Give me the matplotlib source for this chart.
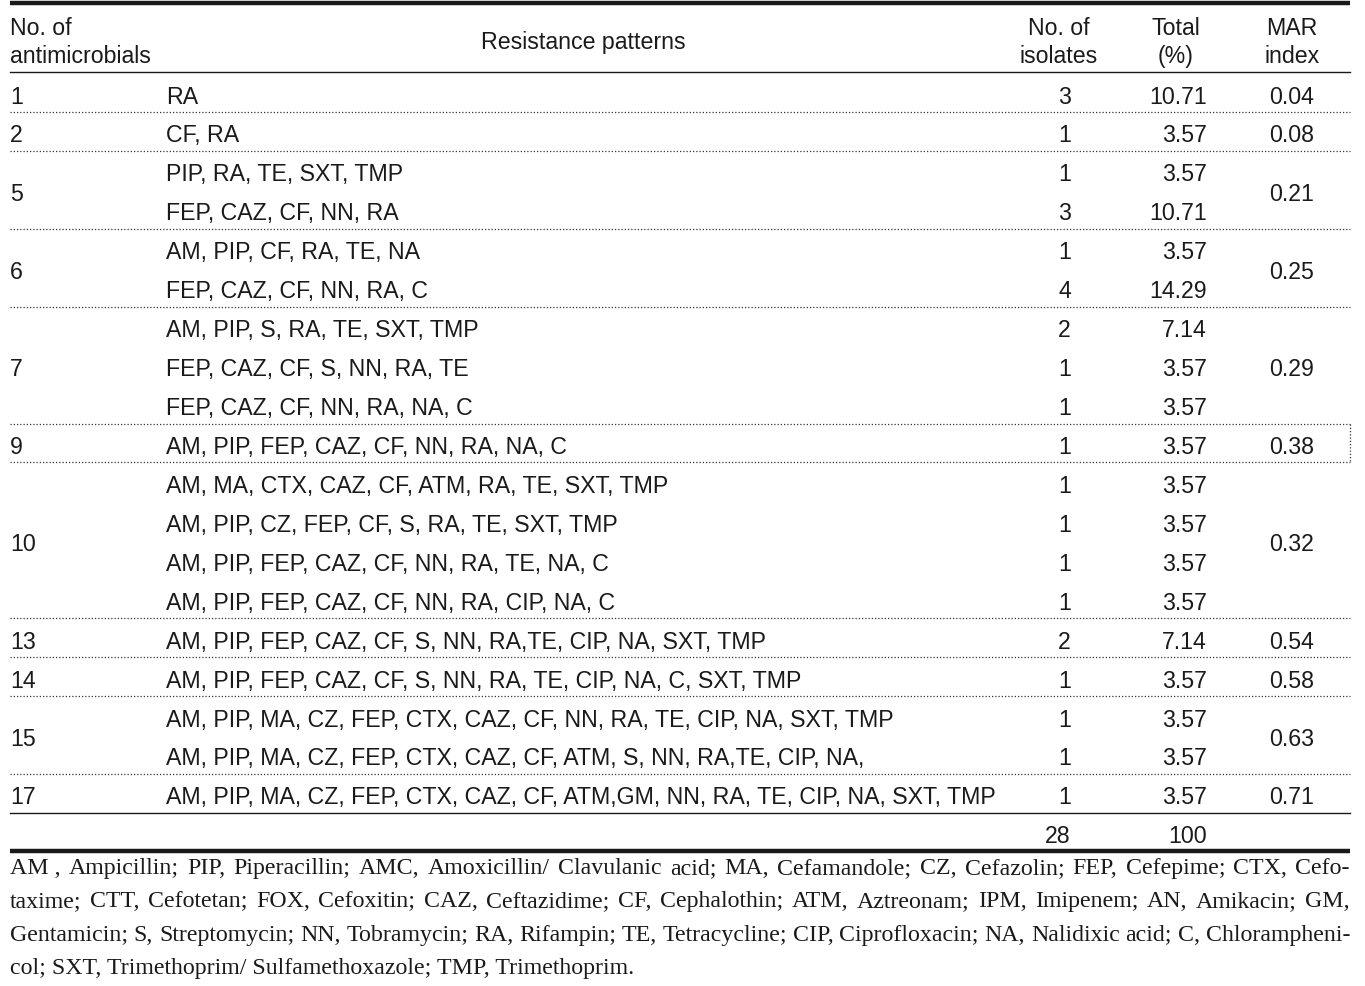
import re
import matplotlib
matplotlib.use("Agg")
import matplotlib.pyplot as plt

# ---------------- data ----------------
group_labels = ["1", "2", "5", "6", "7", "9", "10", "13", "14", "15", "17"]
group_sizes = [1, 1, 2, 2, 3, 1, 4, 1, 1, 2, 1]
mar_index = ["0.04", "0.08", "0.21", "0.25", "0.29", "0.38", "0.32", "0.54", "0.58", "0.63", "0.71"]
patterns = [
    "RA",
    "CF, RA",
    "PIP, RA, TE, SXT, TMP",
    "FEP, CAZ, CF, NN, RA",
    "AM, PIP, CF, RA, TE, NA",
    "FEP, CAZ, CF, NN, RA, C",
    "AM, PIP, S, RA, TE, SXT, TMP",
    "FEP, CAZ, CF, S, NN, RA, TE",
    "FEP, CAZ, CF, NN, RA, NA, C",
    "AM, PIP, FEP, CAZ, CF, NN, RA, NA, C",
    "AM, MA, CTX, CAZ, CF, ATM, RA, TE, SXT, TMP",
    "AM, PIP, CZ, FEP, CF, S, RA, TE, SXT, TMP",
    "AM, PIP, FEP, CAZ, CF, NN, RA, TE, NA, C",
    "AM, PIP, FEP, CAZ, CF, NN, RA, CIP, NA, C",
    "AM, PIP, FEP, CAZ, CF, S, NN, RA,TE, CIP, NA, SXT, TMP",
    "AM, PIP, FEP, CAZ, CF, S, NN, RA, TE, CIP, NA, C, SXT, TMP",
    "AM, PIP, MA, CZ, FEP, CTX, CAZ, CF, NN, RA, TE, CIP, NA, SXT, TMP",
    "AM, PIP, MA, CZ, FEP, CTX, CAZ, CF, ATM, S, NN, RA,TE, CIP, NA,",
    "AM, PIP, MA, CZ, FEP, CTX, CAZ, CF, ATM,GM, NN, RA, TE, CIP, NA, SXT, TMP",
]
isolates = ["3", "1", "1", "3", "1", "4", "2", "1", "1", "1", "1", "1", "1", "1", "2", "1", "1", "1", "1"]
totals = ["10.71", "3.57", "3.57", "10.71", "3.57", "14.29", "7.14", "3.57", "3.57", "3.57",
          "3.57", "3.57", "3.57", "3.57", "7.14", "3.57", "3.57", "3.57", "3.57"]
sum_isolates = "28"
sum_total = "100"
headers = ["No. of\nantimicrobials", "Resistance patterns", "No. of\nisolates", "Total\n(%)", "MAR\nindex"]
footnote_lines = [
    "AM , Ampicillin; PIP, Piperacillin; AMC, Amoxicillin/ Clavulanic acid; MA, Cefamandole; CZ, Cefazolin; FEP, Cefepime; CTX, Cefo-",
    "taxime; CTT, Cefotetan; FOX, Cefoxitin; CAZ, Ceftazidime; CF, Cephalothin; ATM, Aztreonam; IPM, Imipenem; AN, Amikacin; GM,",
    "Gentamicin; S, Streptomycin; NN, Tobramycin; RA, Rifampin; TE, Tetracycline; CIP, Ciprofloxacin; NA, Nalidixic acid; C, Chlorampheni-",
    "col; SXT, Trimethoprim/ Sulfamethoxazole; TMP, Trimethoprim.",
]

# ---------------- layout ----------------
W, H = 1365, 987
fig = plt.figure(figsize=(W / 100, H / 100), dpi=100)
ax = fig.add_axes([0, 0, 1, 1])
ax.set_xlim(0, W)
ax.set_ylim(H, 0)
ax.axis("off")

TXT = "#1a1a1a"
SANS = "Liberation Sans"
SERIF = "Liberation Serif"
FS = 16.7
XL, XR = 10, 1350
x_num, x_pat, x_iso, x_tot, x_mar = 10, 166, 1071, 1207, 1292
yb0, dy = 103.5, 38.94   # baseline of first data row, row pitch


def t(x, y, s, ha="left", **kw):
    return ax.text(x, y, s, ha=ha, va="baseline", fontsize=kw.pop("fs", FS),
                   family=kw.pop("family", SANS), color=TXT, **kw)


# rules
ax.plot([XL, XR], [4, 4], color=TXT, lw=3.2, solid_capstyle="butt")
ax.plot([XL, XR], [73, 73], color=TXT, lw=1.0)

# headers (two-line headers drawn as separate lines)
def header2(x, lines, ha):
    t(x, 35, lines[0], ha=ha)
    t(x, 63, lines[1], ha=ha)

header2(x_num, headers[0].split("\n"), "left")
t(583, 49, headers[1], ha="center")
header2(1059, headers[2].split("\n"), "center")
header2(1176, headers[3].split("\n"), "center")
header2(x_mar, headers[4].split("\n"), "center")

# body
row = 0
n_groups = len(group_labels)
for g, (lab, size, mar) in enumerate(zip(group_labels, group_sizes, mar_index)):
    ys = [yb0 + (row + k) * dy for k in range(size)]
    yc = sum(ys) / len(ys)
    t(x_num, yc, lab)
    t(x_mar, yc, mar, ha="center")
    for k in range(size):
        i = row + k
        t(x_pat, ys[k], patterns[i])
        t(x_iso, ys[k], isolates[i], ha="right")
        t(x_tot, ys[k], totals[i], ha="right")
    row += size
    ysep = ys[-1] + 9.5
    if g < n_groups - 1:
        ax.plot([XL, XR], [ysep, ysep], color="#333333", lw=0.9, linestyle=(0, (1, 1.6)))
        if lab == "9":
            ax.plot([XR, XR], [ys[-1] - 29, ysep], color="#333333", lw=0.9, linestyle=(0, (1, 1.6)))
    else:
        ax.plot([XL, XR], [ysep, ysep], color=TXT, lw=1.0)

# total row
y_sum = yb0 + row * dy
t(x_iso, y_sum, sum_isolates, ha="right")
t(x_tot, y_sum, sum_total, ha="right")
ax.plot([XL, XR], [852, 852], color=TXT, lw=3.2, solid_capstyle="butt")

# footnote (justified)
FFS = 17.2
fig.canvas.draw()
renderer = fig.canvas.get_renderer()
fyb0, fdy = 874, 33.3
for li, line in enumerate(footnote_lines):
    y = fyb0 + li * fdy
    if li == len(footnote_lines) - 1:
        t(XL, y, line, fs=FFS, family=SERIF)
        continue
    words = re.split(r" (?!,)", line)
    objs = [t(0, y, w, fs=FFS, family=SERIF) for w in words]
    widths = [o.get_window_extent(renderer=renderer).width for o in objs]
    gap = (XR - XL - sum(widths)) / (len(words) - 1)
    x = XL
    for o, w in zip(objs, widths):
        o.set_x(x)
        x += w + gap

fig.savefig("out.png", dpi=100)
